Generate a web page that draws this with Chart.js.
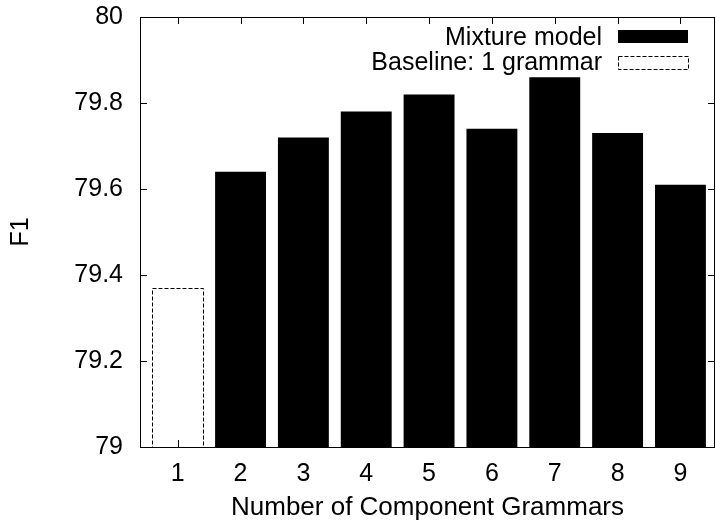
<!DOCTYPE html>
<html>
<head>
<meta charset="utf-8">
<script src="https://cdn.jsdelivr.net/npm/chart.js@4.4.1/dist/chart.umd.min.js"></script>
<style>
  html, body { margin: 0; padding: 0; background: #fff; }
  #wrap { width: 716px; height: 524px; }
</style>
</head>
<body>
<div id="wrap"><canvas id="chart"></canvas></div>
<script>
const baselineGrammars = [1];
const baselineF1 = [79.37];
const mixtureGrammars = [2, 3, 4, 5, 6, 7, 8, 9];
const mixtureF1 = [79.64, 79.72, 79.78, 79.82, 79.74, 79.86, 79.73, 79.61];
const xTicks = [1, 2, 3, 4, 5, 6, 7, 8, 9];
const legendLabels = ['Mixture model', 'Baseline: 1 grammar'];

const FONT = '"Liberation Sans", Arial, Helvetica, sans-serif';
Chart.defaults.font.family = FONT;
Chart.defaults.font.size = 25;
Chart.defaults.color = '#000';

const TICK = 7;

function dashedRect(ctx, x0, y0, x1, y1) {
  ctx.save();
  ctx.strokeStyle = '#000';
  ctx.lineWidth = 1;
  ctx.setLineDash([4, 2]);
  ctx.strokeRect(Math.round(x0) + 0.5, Math.round(y0) + 0.5, Math.round(x1 - x0), Math.round(y1 - y0));
  ctx.restore();
}

// gnuplot style frame, inward tics, dashed baseline bar and key
const gnuplotLook = {
  id: 'gnuplotLook',
  afterDatasetsDraw(chart) {
    const ctx = chart.ctx;
    const a = chart.chartArea;
    const xs = chart.scales.x, ys = chart.scales.y;

    // dashed outline for the baseline bar
    chart.getDatasetMeta(0).data.forEach(bar => {
      const w = bar.width;
      dashedRect(ctx, bar.x - w / 2, bar.y, bar.x + w / 2, Math.min(bar.base, a.bottom));
    });

    ctx.save();
    ctx.strokeStyle = '#000';
    ctx.lineWidth = 1;
    ctx.beginPath();
    ys.ticks.forEach(t => {
      const y = Math.round(ys.getPixelForValue(t.value)) + 0.5;
      ctx.moveTo(a.left, y); ctx.lineTo(a.left + TICK, y);
      ctx.moveTo(a.right, y); ctx.lineTo(a.right - TICK, y);
    });
    xTicks.forEach(v => {
      const x = Math.round(xs.getPixelForValue(v)) + 0.5;
      ctx.moveTo(x, a.bottom); ctx.lineTo(x, a.bottom - TICK);
      ctx.moveTo(x, a.top); ctx.lineTo(x, a.top + TICK);
    });
    ctx.stroke();
    ctx.strokeRect(Math.round(a.left) + 0.5, Math.round(a.top) + 0.5,
      Math.round(a.right - a.left) - 1, Math.round(a.bottom - a.top));

    // key
    ctx.font = '25px ' + FONT;
    ctx.fillStyle = '#000';
    ctx.textAlign = 'right';
    ctx.textBaseline = 'middle';
    ctx.fillText(legendLabels[0], 602, 38);
    ctx.fillText(legendLabels[1], 602, 63);
    ctx.fillRect(618, 30, 70, 13);
    ctx.restore();
    dashedRect(ctx, 618, 56, 688, 69);
  }
};

new Chart(document.getElementById('chart'), {
  type: 'bar',
  data: {
    datasets: [
      {
        label: legendLabels[1],
        data: baselineGrammars.map((g, i) => ({ x: g, y: baselineF1[i] })),
        backgroundColor: 'rgba(0,0,0,0)',
        borderWidth: 0,
        grouped: false
      },
      {
        label: legendLabels[0],
        data: mixtureGrammars.map((g, i) => ({ x: g, y: mixtureF1[i] })),
        backgroundColor: '#000',
        borderWidth: 0,
        grouped: false
      }
    ]
  },
  options: {
    responsive: true,
    maintainAspectRatio: false,
    animation: false,
    categoryPercentage: 1,
    barPercentage: 0.81,
    layout: { padding: { top: 17, right: 1, left: 0, bottom: 0 } },
    plugins: {
      legend: { display: false },
      tooltip: { enabled: false }
    },
    scales: {
      x: {
        type: 'linear',
        offset: false,
        min: 0.4,
        max: 9.55,
        afterFit(s) { s.height = 77; s.paddingLeft = 0; s.paddingRight = 0; },
        afterBuildTicks(s) { s.ticks = xTicks.map(v => ({ value: v })); },
        grid: { display: false, drawTicks: false },
        border: { display: false },
        ticks: { padding: 12, maxRotation: 0, autoSkip: false },
        title: {
          display: true,
          text: 'Number of Component Grammars',
          font: { size: 26 },
          padding: { top: 0, bottom: 1 }
        }
      },
      y: {
        min: 79,
        max: 80,
        afterFit(s) { s.width = 140; s.paddingTop = 0; s.paddingBottom = 0; },
        grid: { display: false, drawTicks: false },
        border: { display: false },
        ticks: {
          stepSize: 0.2,
          padding: 17,
          callback: v => String(Number(v.toFixed(1)))
        },
        title: {
          display: true,
          text: 'F1',
          padding: { top: 6, bottom: 0 }
        }
      }
    }
  },
  plugins: [gnuplotLook]
});
</script>
</body>
</html>
